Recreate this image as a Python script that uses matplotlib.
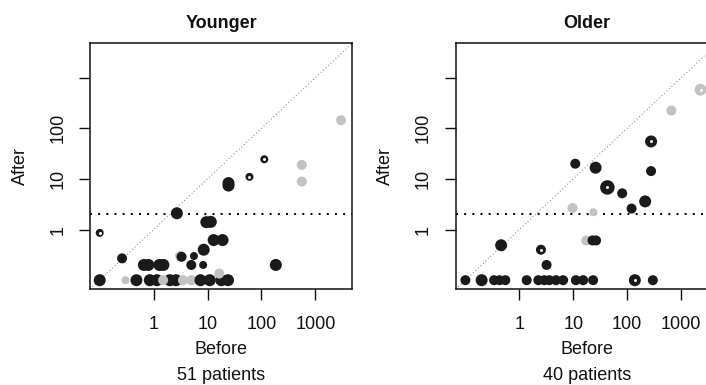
import numpy as np
import matplotlib
matplotlib.use("Agg")
import matplotlib.pyplot as plt

plt.rcParams['font.family'] = ['Liberation Sans', 'DejaVu Sans']

# kind: k = black, g = grey, r = black ring, gr = grey ring ; w = weight (1 small .. 4 large)
young_before = [0.1, 0.30, 0.48, 0.85, 1.15, 2.0, 2.6, 1.5, 3.5, 5.0, 7.4, 11.0, 18, 24, 16.5,
                0.66, 0.8, 1.28, 1.52, 5.0, 8.3, 185,
                3.1, 3.3, 5.6, 0.26, 8.5, 9.5, 11.5, 13, 19, 2.7, 24.5, 24.5,
                0.1, 60, 113, 560, 560, 3000]
young_after = [0.1, 0.1, 0.1, 0.1, 0.1, 0.1, 0.1, 0.1, 0.1, 0.1, 0.1, 0.1, 0.1, 0.1, 0.135,
               0.2, 0.2, 0.2, 0.2, 0.2, 0.2, 0.2,
               0.3, 0.29, 0.3, 0.27, 0.40, 1.4, 1.42, 0.62, 0.62, 2.1, 7.4, 8.3,
               0.86, 11, 24.5, 19, 8.9, 145]
young_kind = ['k', 'g', 'k', 'k', 'k', 'k', 'k', 'g', 'g', 'g', 'k', 'k', 'k', 'k', 'g',
              'k', 'k', 'k', 'k', 'k', 'k', 'k',
              'g', 'k', 'k', 'k', 'k', 'k', 'k', 'k', 'k', 'k', 'k', 'k',
              'r', 'r', 'r', 'g', 'g', 'g']
young_w = [3, 1, 3, 3, 3, 3, 3, 2, 2, 2, 3, 3, 3, 3, 2,
           3, 3, 3, 3, 2, 1, 3,
           2, 2, 1, 2, 3, 3, 3, 3, 3, 3, 3, 3,
           1, 1, 1, 2, 2, 2]

old_before = [0.1, 0.2, 0.34, 0.43, 0.55, 1.37, 2.25, 2.9, 3.6, 4.8, 6.5, 11.2, 15.3, 23.4, 139, 300,
              0.46, 2.52, 3.2, 10.9, 9.7, 23.7, 17.5, 22.8, 26.5, 26, 43, 81, 121, 216,
              278, 278, 660, 2300]
old_after = [0.1] * 16 + [0.49, 0.40, 0.2, 20, 2.67, 2.2, 0.61, 0.61, 0.61, 16.7, 6.8, 5.2, 2.6, 3.6,
                          55, 14.3, 225, 580]
old_kind = ['k'] * 14 + ['r', 'k'] + ['k', 'r', 'k', 'k', 'g', 'g', 'g', 'k', 'k', 'k', 'r', 'k', 'k', 'k',
                                      'r', 'k', 'g', 'gr']
old_w = [2, 3, 2, 2, 2, 2, 2, 2, 2, 2, 2, 2, 2, 2, 3, 2,
         3, 2, 2, 2, 2, 1, 2, 2, 2, 3, 4, 2, 2, 3,
         3, 2, 2, 3]

panels = [("Younger", "51 patients", young_before, young_after, young_kind, young_w),
          ("Older", "40 patients", old_before, old_after, old_kind, old_w)]

BLACK = "#1a1a1a"
GREY = "#c2c2c2"
INK = "#111111"
size_px = {1: 8, 2: 10, 3: 12, 4: 14.5}
lims = (10 ** -1.18, 10 ** 3.68)

fig = plt.figure(figsize=(7.06, 3.85), dpi=100)
W, H = 706, 385

for i, (title, sub, xb, ya, kind, w) in enumerate(panels):
    left = [90, 455.7][i]
    ax = fig.add_axes([left / W, 1 - 289.3 / H, 262 / W, 246 / H])
    ax.set_xscale('log')
    ax.set_yscale('log')
    ax.set_xlim(lims)
    ax.set_ylim(lims)

    ax.plot(lims, lims, color="#777777", lw=0.7, ls=(0, (1, 2.5)), zorder=1)
    ax.axhline(2, color="black", lw=1.4, ls=(0, (1, 3.2)), zorder=1)

    cols = [GREY if k in ('g', 'gr') else BLACK for k in kind]
    s = [(size_px[v] * 0.72) ** 2 for v in w]
    ax.scatter(xb, ya, s=s, c=cols, linewidths=0, zorder=3, clip_on=False)
    ring = [j for j, k in enumerate(kind) if k in ('r', 'gr')]
    ax.scatter([xb[j] for j in ring], [ya[j] for j in ring],
               s=(3.0 * 0.72) ** 2, c='white', linewidths=0, zorder=4)

    ax.set_xticks([1, 10, 100, 1000])
    ax.set_xticklabels(['1', '10', '100', '1000'])
    ax.set_yticks([1, 10, 100, 1000])
    ax.set_yticklabels(['1', '10', '100', ''])
    ax.minorticks_off()
    ax.tick_params(axis='both', direction='out', length=8, width=1.0, labelsize=13, colors=INK)
    ax.tick_params(axis='x', pad=11)
    ax.tick_params(axis='y', pad=9, labelrotation=90)
    for t in ax.get_yticklabels():
        t.set_va('center')
    for sp in ax.spines.values():
        sp.set_linewidth(1.1)
        sp.set_color(INK)

    ax.set_title(title, fontsize=13, fontweight='bold', pad=11, color=INK)
    cx = (left + 131) / W
    fig.text(cx, 1 - 350 / H, "Before", ha='center', va='center', fontsize=13, color=INK)
    fig.text(cx, 1 - 375 / H, sub, ha='center', va='center', fontsize=13, color=INK)
    fig.text([20, 385][i] / W, 1 - 166.3 / H, "After", rotation=90, ha='center', va='center',
             fontsize=13, color=INK)

fig.savefig("out.png", dpi=100)
